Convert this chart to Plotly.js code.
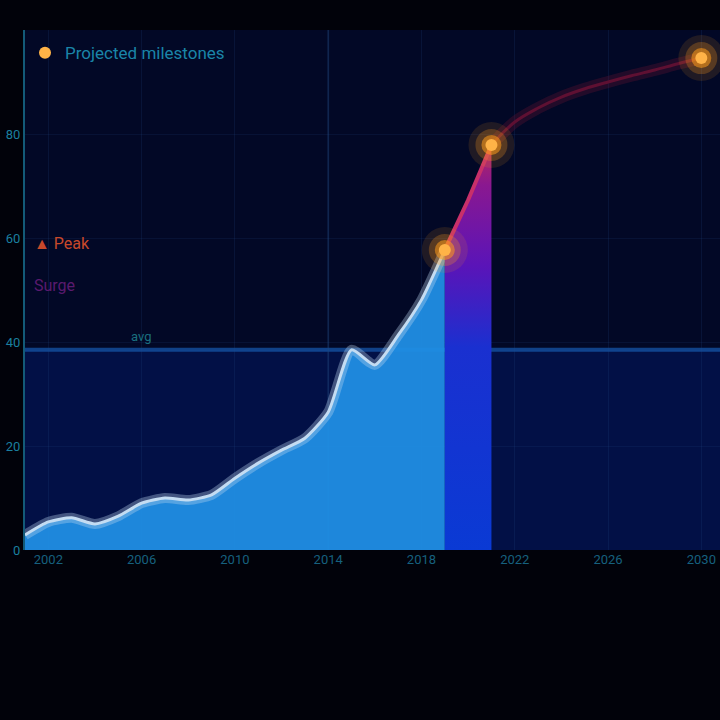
<!DOCTYPE html>
<html>
<head>
<meta charset="utf-8">
<script src="https://cdn.plot.ly/plotly-3.0.1.min.js"></script>
<style>html,body{margin:0;padding:0;background:#000;}#chart{width:720px;height:720px;}</style>
</head>
<body>
<div id="chart"></div>
<script>
// ---- data ----
const histYears = [2001,2002,2003,2004,2005,2006,2007,2008,2009,2010,2011,2012,2013,2014,2015,2016,2017,2018,2019];
const histValues = [2.9,5.4,6.2,5.0,6.5,9.0,10.0,9.6,10.6,13.8,16.7,19.2,21.5,26.5,38.5,35.6,41.3,48.1,57.7];
const surgeYears = [2019,2020,2021];
const surgeValues = [57.7,67.3,77.9];
const forecastYears = [2021,2022,2023,2024,2025,2026,2027,2028,2029,2030];
const forecastValues = [77.9,82.3,85.0,87.1,88.7,90.0,91.2,92.3,93.5,94.6];
const highlightYears = [2019,2021,2030];
const highlightValues = [57.7,77.9,94.6];
const averageLevel = 38.5;
const xTicks = [2002,2006,2010,2014,2018,2022,2026,2030];
const yTicks = [0,20,40,60,80];

const traces = [];
// historical area
traces.push({x:histYears,y:histValues,type:'scatter',mode:'lines',fill:'tozeroy',
  fillcolor:'rgba(32,142,228,0.95)',line:{color:'rgba(190,215,240,0.35)',width:10,shape:'spline',smoothing:0.6},
  hoverinfo:'skip',showlegend:false});
traces.push({x:histYears,y:histValues,type:'scatter',mode:'lines',
  line:{color:'#c4dcf2',width:3,shape:'spline',smoothing:0.6},showlegend:false,name:'Historical'});
// surge band
traces.push({x:surgeYears,y:surgeValues,type:'scatter',mode:'lines',fill:'tozeroy',
  fillgradient:{type:'vertical',start:0,stop:78,colorscale:[[0,'#0a3ad4'],[0.5,'#1a30d0'],[0.7,'#5a14b8'],[0.9,'#8a1890'],[1,'#b82a5a']]},
  line:{color:'#c8306a',width:4},showlegend:false,name:'Surge'});
// forecast
traces.push({x:forecastYears,y:forecastValues,type:'scatter',mode:'lines',
  line:{color:'rgba(110,20,50,0.3)',width:12,shape:'spline'},hoverinfo:'skip',showlegend:false});
traces.push({x:forecastYears,y:forecastValues,type:'scatter',mode:'lines',
  line:{color:'#5e1032',width:3,shape:'spline'},showlegend:false,name:'Forecast'});
// glowing markers
[[46,0.12],[32,0.25],[20,0.55]].forEach(([s,o])=>{
  traces.push({x:highlightYears,y:highlightValues,type:'scatter',mode:'markers',
    marker:{size:s,color:'#ff9a1a',opacity:o,line:{width:0}},hoverinfo:'skip',showlegend:false});
});
traces.push({x:highlightYears,y:highlightValues,type:'scatter',mode:'markers',
  marker:{size:12,color:'#ffb347',line:{width:0}},name:'Projected milestones',showlegend:true});

const layout = {
  width:720,height:720,
  margin:{l:25,r:0,t:30,b:170},
  paper_bgcolor:'#01020a',plot_bgcolor:'#020826',
  font:{family:'Roboto, sans-serif',color:'#1a7f9f'},
  xaxis:{range:[2001,2030.8],tickvals:xTicks,tickfont:{size:13,color:'#16607e'},
    showgrid:true,gridcolor:'rgba(40,80,140,0.18)',zeroline:false,showline:false,ticks:''},
  yaxis:{range:[0,100],tickvals:yTicks,tickfont:{size:13,color:'#1a7f9f'},
    showgrid:true,gridcolor:'rgba(40,80,140,0.15)',zeroline:false,showline:true,linecolor:'#135a78',linewidth:2},
  shapes:[
    {type:'rect',xref:'paper',x0:0,x1:1,yref:'y',y0:0,y1:averageLevel,fillcolor:'rgba(4,22,92,0.6)',line:{width:0},layer:'below'},
    {type:'line',xref:'paper',x0:0,x1:1,yref:'y',y0:averageLevel,y1:averageLevel,line:{color:'rgba(20,80,160,0.8)',width:4},layer:'below'},
    {type:'line',xref:'x',x0:2014,x1:2014,yref:'paper',y0:0,y1:1,line:{color:'rgba(30,70,120,0.35)',width:2},layer:'below'}
  ],
  annotations:[
    {xref:'x',yref:'y',x:2002.6,y:55,text:'<span style="color:#c8482a">▲ Peak</span><br><br><span style="color:#5a1a6e">Surge</span>',
     showarrow:false,font:{size:16},align:'left'},
    {xref:'x',yref:'y',x:2006,y:41,text:'avg',showarrow:false,font:{size:13,color:'#1a6f7f'}}
  ],
  legend:{x:0.0,y:0.99,xanchor:'left',yanchor:'top',bgcolor:'rgba(0,0,0,0)',font:{size:17,color:'#1a85a8'}},
  showlegend:true
};
Plotly.newPlot('chart',traces,layout,{displayModeBar:false,staticPlot:true});
</script>
</body>
</html>
